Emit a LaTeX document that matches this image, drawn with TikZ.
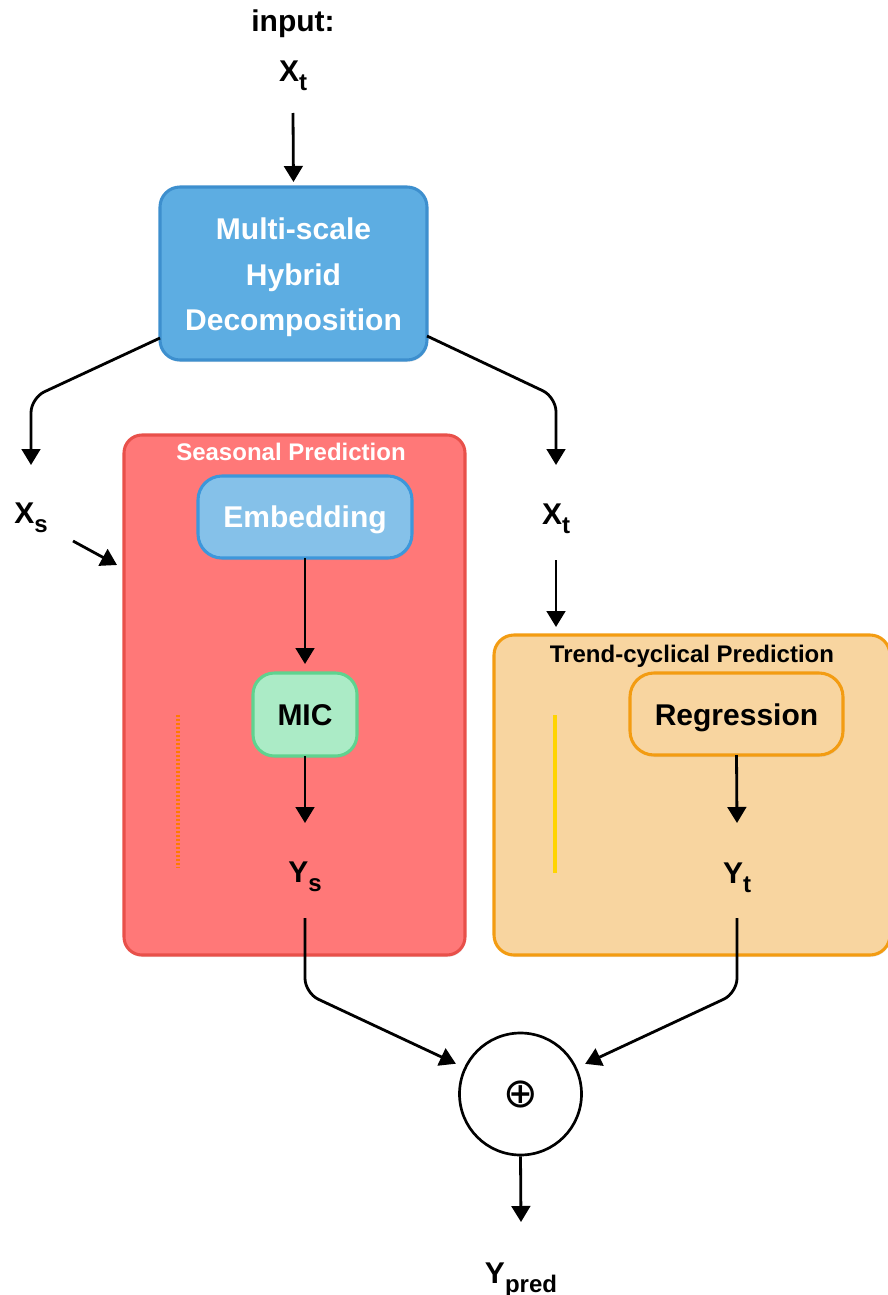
\documentclass[tikz,border=0pt]{standalone}
\usepackage{fontspec}
\setmainfont{Liberation Sans}
\newfontfamily\symfont{DejaVu Sans}
\usetikzlibrary{arrows.meta,calc,shadows}

% lowered subscript for the variable labels
\newcommand{\lowsub}[1]{\raisebox{-6.75pt}{\fontsize{18}{18}\selectfont #1}}

\definecolor{mhdfill}{HTML}{5DADE2}
\definecolor{mhdline}{HTML}{3D8FCE}
\definecolor{seasfill}{HTML}{FF7878}
\definecolor{seasline}{HTML}{E8504A}
\definecolor{embfill}{HTML}{85C1E9}
\definecolor{embline}{HTML}{3D97DB}
\definecolor{micfill}{HTML}{ABEBC6}
\definecolor{micline}{HTML}{5FD38F}
\definecolor{trendfill}{HTML}{F8D5A0}
\definecolor{trendline}{HTML}{F39C12}
\definecolor{dotorange}{HTML}{FF7A00}
\definecolor{markyellow}{HTML}{FFD400}

\begin{document}
\begin{tikzpicture}[x=0.75pt,y=-0.75pt,
  every node/.style={font=\bfseries\fontsize{22.5}{27}\selectfont},
  lbl/.style={anchor=base, inner sep=0pt},
  title/.style={anchor=base, inner sep=0pt, font=\bfseries\fontsize{18}{18}\selectfont},
  box/.style={draw, line width=2.3pt, inner sep=0pt, outer sep=0pt, align=center,
    drop shadow={opacity=0.15, shadow xshift=0.6pt, shadow yshift=-1.5pt}},
  arr/.style={line width=2.1pt, -{Triangle[length=12pt,width=14pt]}},
]
\useasboundingbox (0,0) rectangle (888,1295);

% input
\node[lbl] (inp) at (293,32) {input:};
\node[lbl] (xt0) at (293,81) {X\lowsub{t}};

% decomposition block
\node[box, fill=mhdfill, draw=mhdline, minimum width=200.25pt, minimum height=129.75pt,
  rounded corners=15pt, text=white, font=\bfseries\fontsize{22.5}{34}\selectfont]
  (mhd) at (293.5,273.5) {\rule{0pt}{22pt}Multi-scale\\Hybrid\\Decomposition};

% seasonal branch container
\node[box, fill=seasfill, draw=seasline, minimum width=255.75pt, minimum height=390pt,
  rounded corners=13.5pt] (seas) at (294.5,695) {};
\node[title, text=white] (seastitle) at (291,460) {Seasonal Prediction};

% trend branch container
\node[box, fill=trendfill, draw=trendline, minimum width=297pt, minimum height=240pt,
  rounded corners=15pt] (trend) at (692,795) {};
\node[title] (trendtitle) at (692,662) {Trend-cyclical Prediction};

% inner blocks
\node[box, fill=embfill, draw=embline, minimum width=160.5pt, minimum height=61.5pt,
  rounded corners=18pt, text=white, text height=16pt, text depth=1pt]
  (emb) at (305,517) {Embedding};
\node[box, fill=micfill, draw=micline, minimum width=78pt, minimum height=62.25pt,
  rounded corners=16pt, text height=16.75pt, text depth=1pt]
  (mic) at (305,714.5) {MIC};
\node[box, fill=trendfill, draw=trendline, minimum width=159.75pt, minimum height=61.5pt,
  rounded corners=18pt, text height=17.5pt, text depth=1pt]
  (reg) at (736.5,714) {Regression};

% side marks inside the containers
\draw[dotorange, line width=2.6pt, dash pattern=on 1.6pt off 1.4pt] (178,715) -- (178,868);
\draw[markyellow, line width=2.6pt] (555,715) -- (555,873);

% variable labels
\node[lbl] (xs) at (31,523) {X\lowsub{s}};
\node[lbl] (xtr) at (556,524) {X\lowsub{t}};
\node[lbl] (ys) at (305,882) {Y\lowsub{s}};
\node[lbl] (yt) at (737,883) {Y\lowsub{t}};

% summation
\node[circle, draw, line width=2pt, minimum size=91.5pt, inner sep=0pt, fill=white]
  (sum) at (520.5,1094) {\symfont\mdseries\fontsize{31}{31}\selectfont ⊕};
\node[lbl] (ypred) at (521,1283) {Y\lowsub{pred}};

% bend points of the split
\coordinate (lbend) at (31,398);
\coordinate (rbend) at (556,397);

% connectors
\draw[arr, shorten >=3.75pt] ($(xt0.base)+(0,32)$) -- (mhd.north);
\draw[arr, rounded corners=11pt] ($(mhd.south west)+(0,-22)$) -- (lbend) -- ($(xs.base)+(0,-58)$);
\draw[arr, rounded corners=11pt] ($(mhd.south east)+(0,-24)$) -- (rbend) -- ($(xtr.base)+(0,-59)$);
\draw[arr] ($(xs.base)+(42,18)$) -- ($(seas.north west)+(-7,130)$);
\draw[arr, shorten >=6pt] ($(xtr.base)+(0,36)$) -- (xtr.base |- trend.north);
\draw[arr, shorten >=6.75pt] (emb.south) -- (mic.north);
\draw[arr] (mic.south) -- ($(ys.base)+(0,-59)$);
\draw[arr] (reg.south) -- ($(yt.base)+(0,-60)$);
\draw[arr, rounded corners=11pt, shorten >=6.75pt] ($(ys.base)+(0,36)$) -- ($(ys.base)+(0,111)$) -- (sum);
\draw[arr, rounded corners=11pt, shorten >=6.75pt] ($(yt.base)+(0,35)$) -- ($(yt.base)+(0,110)$) -- (sum);
\draw[arr] (sum.south) -- ($(ypred.base)+(0,-61)$);
\end{tikzpicture}
\end{document}
